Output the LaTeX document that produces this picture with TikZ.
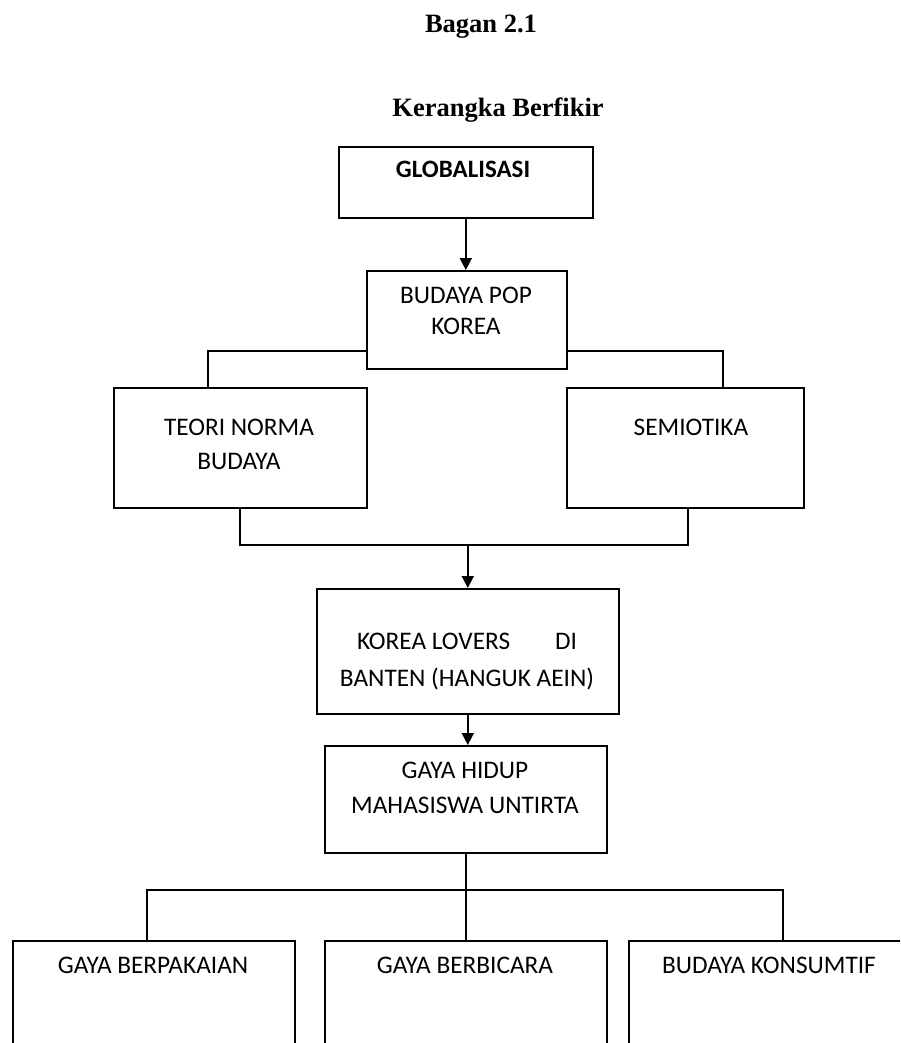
\documentclass[tikz,border=0pt]{standalone}
\usepackage{fontspec}
\setmainfont{Carlito}
\newfontfamily\titlefont{Liberation Serif}
\usetikzlibrary{arrows.meta}
\begin{document}
\begin{tikzpicture}[x=1pt,y=-1pt,
  box/.style={draw=black,line width=1.6pt,rectangle,inner sep=0pt,anchor=north west},
  lbl/.style={anchor=base,inner sep=0pt,align=center,font=\fontsize{25.3}{33}\selectfont},
  ttl/.style={anchor=base,inner sep=0pt,font=\titlefont\bfseries\fontsize{26.5}{30}\selectfont},
  conn/.style={draw=black,line width=1.6pt},
  arr/.style={conn,-{Triangle[width=12pt,length=12pt]}}]
\clip (0,0) rectangle (900,1043);
\useasboundingbox (0,0) rectangle (900,1043);
% titles
\node[ttl] (t1) at (481,33) {Bagan 2.1};
\node[ttl] (t2) at (498,117) {Kerangka Berfikir};
% boxes
\node[box,minimum width=254pt,minimum height=71pt] (glob) at (338,146) {};
\node[box,minimum width=200pt,minimum height=98pt] (bpk) at (366,270) {};
\node[box,minimum width=253pt,minimum height=120pt] (teori) at (113,387) {};
\node[box,minimum width=237pt,minimum height=120pt] (semi) at (566,387) {};
\node[box,minimum width=302pt,minimum height=125pt] (kl) at (316,588) {};
\node[box,minimum width=282pt,minimum height=107pt] (gh) at (324,745) {};
\node[box,minimum width=282pt,minimum height=150pt] (b1) at (12,940) {};
\node[box,minimum width=282pt,minimum height=150pt] (b2) at (324,940) {};
\node[box,minimum width=300pt,minimum height=150pt] (b3) at (628,940) {};
% texts
\node[lbl,font=\bfseries\fontsize{25}{33}\selectfont] (globt) at (463,178) {GLOBALISASI};
\node[lbl] (bpkt) at (466,334) {BUDAYA POP\\[-2pt]KOREA};
\node[lbl] (teorit) at (239,469) {TEORI NORMA\\[1pt]BUDAYA};
\node[lbl] (semit) at (691,435) {SEMIOTIKA};
\node[lbl] (klt) at (467,686) {\makebox[220pt][s]{KOREA LOVERS\hfill DI}\\[4pt]BANTEN (HANGUK AEIN)};
\node[lbl] (ght) at (465,813) {GAYA HIDUP\\[2pt]MAHASISWA UNTIRTA};
\node[lbl] (b1t) at (153,973) {GAYA BERPAKAIAN};
\node[lbl] (b2t) at (465,973) {GAYA BERBICARA};
\node[lbl] (b3t) at (769,973) {BUDAYA KONSUMTIF};
% connectors
\coordinate (jl) at (208,351);
\coordinate (jr) at (723,351);
\coordinate (ml) at (240,545);
\coordinate (mr) at (688,545);
\coordinate (bl) at (147,890);
\coordinate (br) at (783,890);
\draw[arr] (glob.south) -- (glob.south |- bpk.north);
\draw[conn] (bpk.west |- jl) -- (jl) -- (jl |- teori.north);
\draw[conn] (bpk.east |- jr) -- (jr) -- (jr |- semi.north);
\draw[conn] (ml |- teori.south) -- (ml) -- (mr) -- (mr |- semi.south);
\draw[arr] (kl.north |- ml) -- (kl.north);
\draw[arr] (kl.south) -- (kl.south |- gh.north);
\draw[conn] (gh.south) -- (gh.south |- b2.north);
\draw[conn] (bl |- b1.north) -- (bl) -- (br) -- (br |- b3.north);
\end{tikzpicture}
\end{document}
